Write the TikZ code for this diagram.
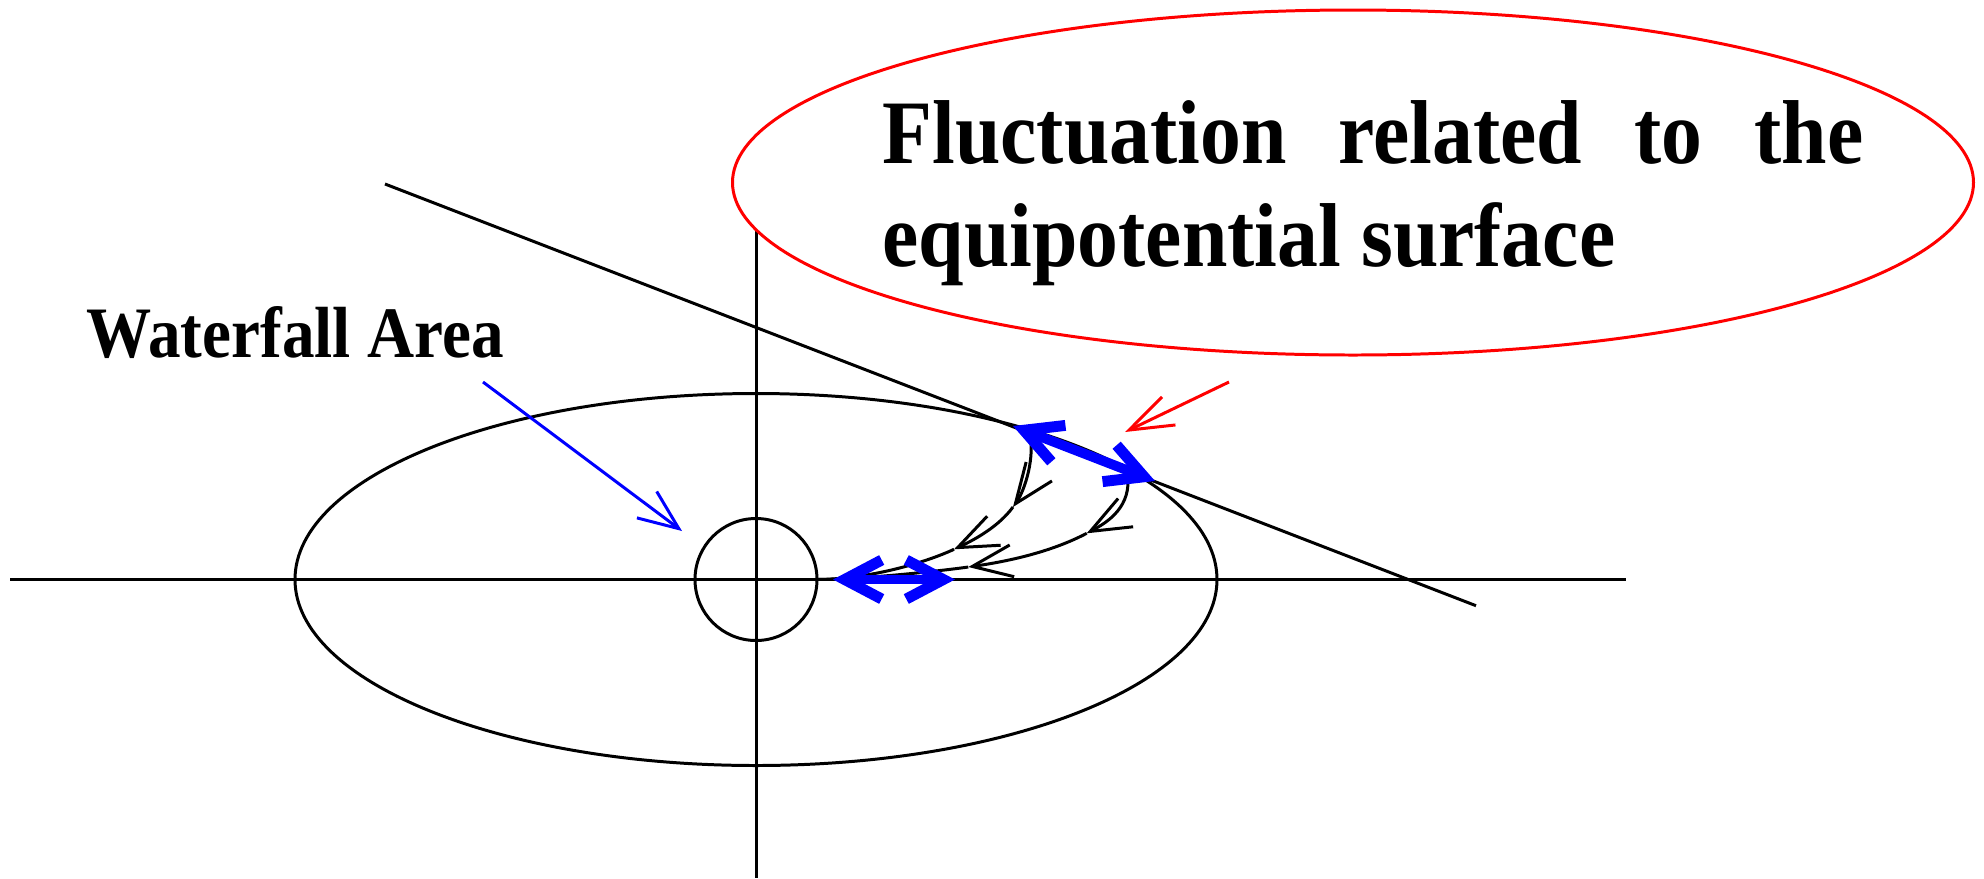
\documentclass[tikz,border=0pt]{standalone}
\usepackage{fontspec}
\newfontfamily\lblfont{Liberation Serif}[FakeStretch=0.9]
\usetikzlibrary{arrows.meta}
\tikzset{
  flowtip/.tip={Straight Barb[length=0.40cm,width=0.32cm,line width=0.85pt]},
  thintip/.tip={Straight Barb[length=0.40cm,width=0.33cm,line width=0.85pt]},
  redtip/.tip={Straight Barb[length=0.44cm,width=0.31cm,line width=0.85pt]},
  thicktip/.tip={Straight Barb[length=0.37cm,width=0.39cm,line width=3.1pt]},
  axisline/.style={line width=0.85pt,black},
  flowline/.style={line width=0.85pt,black},
  bluethick/.style={line width=2.8pt,blue},
  bluethin/.style={line width=0.85pt,blue},
  redthin/.style={line width=0.85pt,red},
  bigtext/.style={inner sep=0pt,anchor=base west,font=\lblfont\bfseries\fontsize{25.8pt}{29pt}\selectfont},
  midtext/.style={inner sep=0pt,anchor=base west,font=\lblfont\bfseries\fontsize{20.6pt}{24pt}\selectfont}
}
\begin{document}
\begin{tikzpicture}[x=0.01cm,y=-0.01cm]
\useasboundingbox (0,0) rectangle (1984,878);
\fill[white] (0,0) rectangle (1984,878);

% axes
\coordinate (hL) at (10,579.5);
\coordinate (hR) at (1626,579.5);
\coordinate (vT) at (756,226);
\coordinate (vB) at (756,878);
\draw[axisline] (hL) -- (hR);
\draw[axisline] (vT) -- (vB);

% big ellipse and small circle
\coordinate (O) at (756,579.5);
\draw[axisline] (O) ellipse [x radius=461, y radius=186];
\draw[axisline] (O) circle [radius=61];

% long tangent/secant line
\coordinate (lS) at (385,184);
\coordinate (lE) at (1476,605.7);
\draw[axisline] (lS) -- (lE);

% flow curve 1
\coordinate (c1s) at (1029,432);
\coordinate (c1a) at (1013,507);
\coordinate (c1b) at (954,549.3);
\coordinate (c1e) at (815,579.5);
\draw[flowline,-{flowtip}] (c1s) .. controls (1036,455) and (1024.8,490.9) .. (c1a);
\draw[flowline,-{flowtip}] (c1a) .. controls (998.8,526.3) and (975.7,539.2) .. (c1b);
\draw[flowline] (c1b) .. controls (926.8,562) and (870,579.5) .. (c1e);

% flow curve 2
\coordinate (c2s) at (1128,480);
\coordinate (c2a) at (1086.7,533.3);
\coordinate (c2b) at (968.3,567);
\coordinate (c2e) at (815,579.5);
\draw[flowline,-{flowtip}] (c2s) .. controls (1129,510) and (1104.4,523.9) .. (c2a);
\draw[flowline,-{flowtip}] (c2a) .. controls (1051.3,552) and (1007.9,561.4) .. (c2b);
\draw[flowline] (c2b) .. controls (938.6,571.2) and (860,579.5) .. (c2e);

% thick blue double arrows
\coordinate (sA) at (1013,426);
\coordinate (sB) at (1155,481);
\draw[bluethick,{thicktip}-{thicktip}] (sA) -- (sB);
\coordinate (aA) at (833,579.5);
\coordinate (aB) at (955,579.5);
\draw[bluethick,{thicktip}-{thicktip}] (aA) -- (aB);

% waterfall label and arrow
\node[midtext] (wf) at (86,357) {Waterfall Area};
\coordinate (wS) at (483,382);
\coordinate (wT) at (682,531);
\draw[bluethin,-{thintip}] (wS) -- (wT);

% red arrow
\coordinate (rS) at (1229,382);
\coordinate (rT) at (1125,432);
\draw[redthin,-{redtip}] (rS) -- (rT);

% red ellipse with text
\filldraw[draw=red,fill=white,line width=0.85pt] (1353,182.5) ellipse [x radius=620.5, y radius=172.5];
\node[bigtext] (fl1) at (882,163) {\makebox[9.8cm][s]{Fluctuation related to the}};
\node[bigtext] (fl2) at (882,266) {equipotential surface};
\end{tikzpicture}
\end{document}
